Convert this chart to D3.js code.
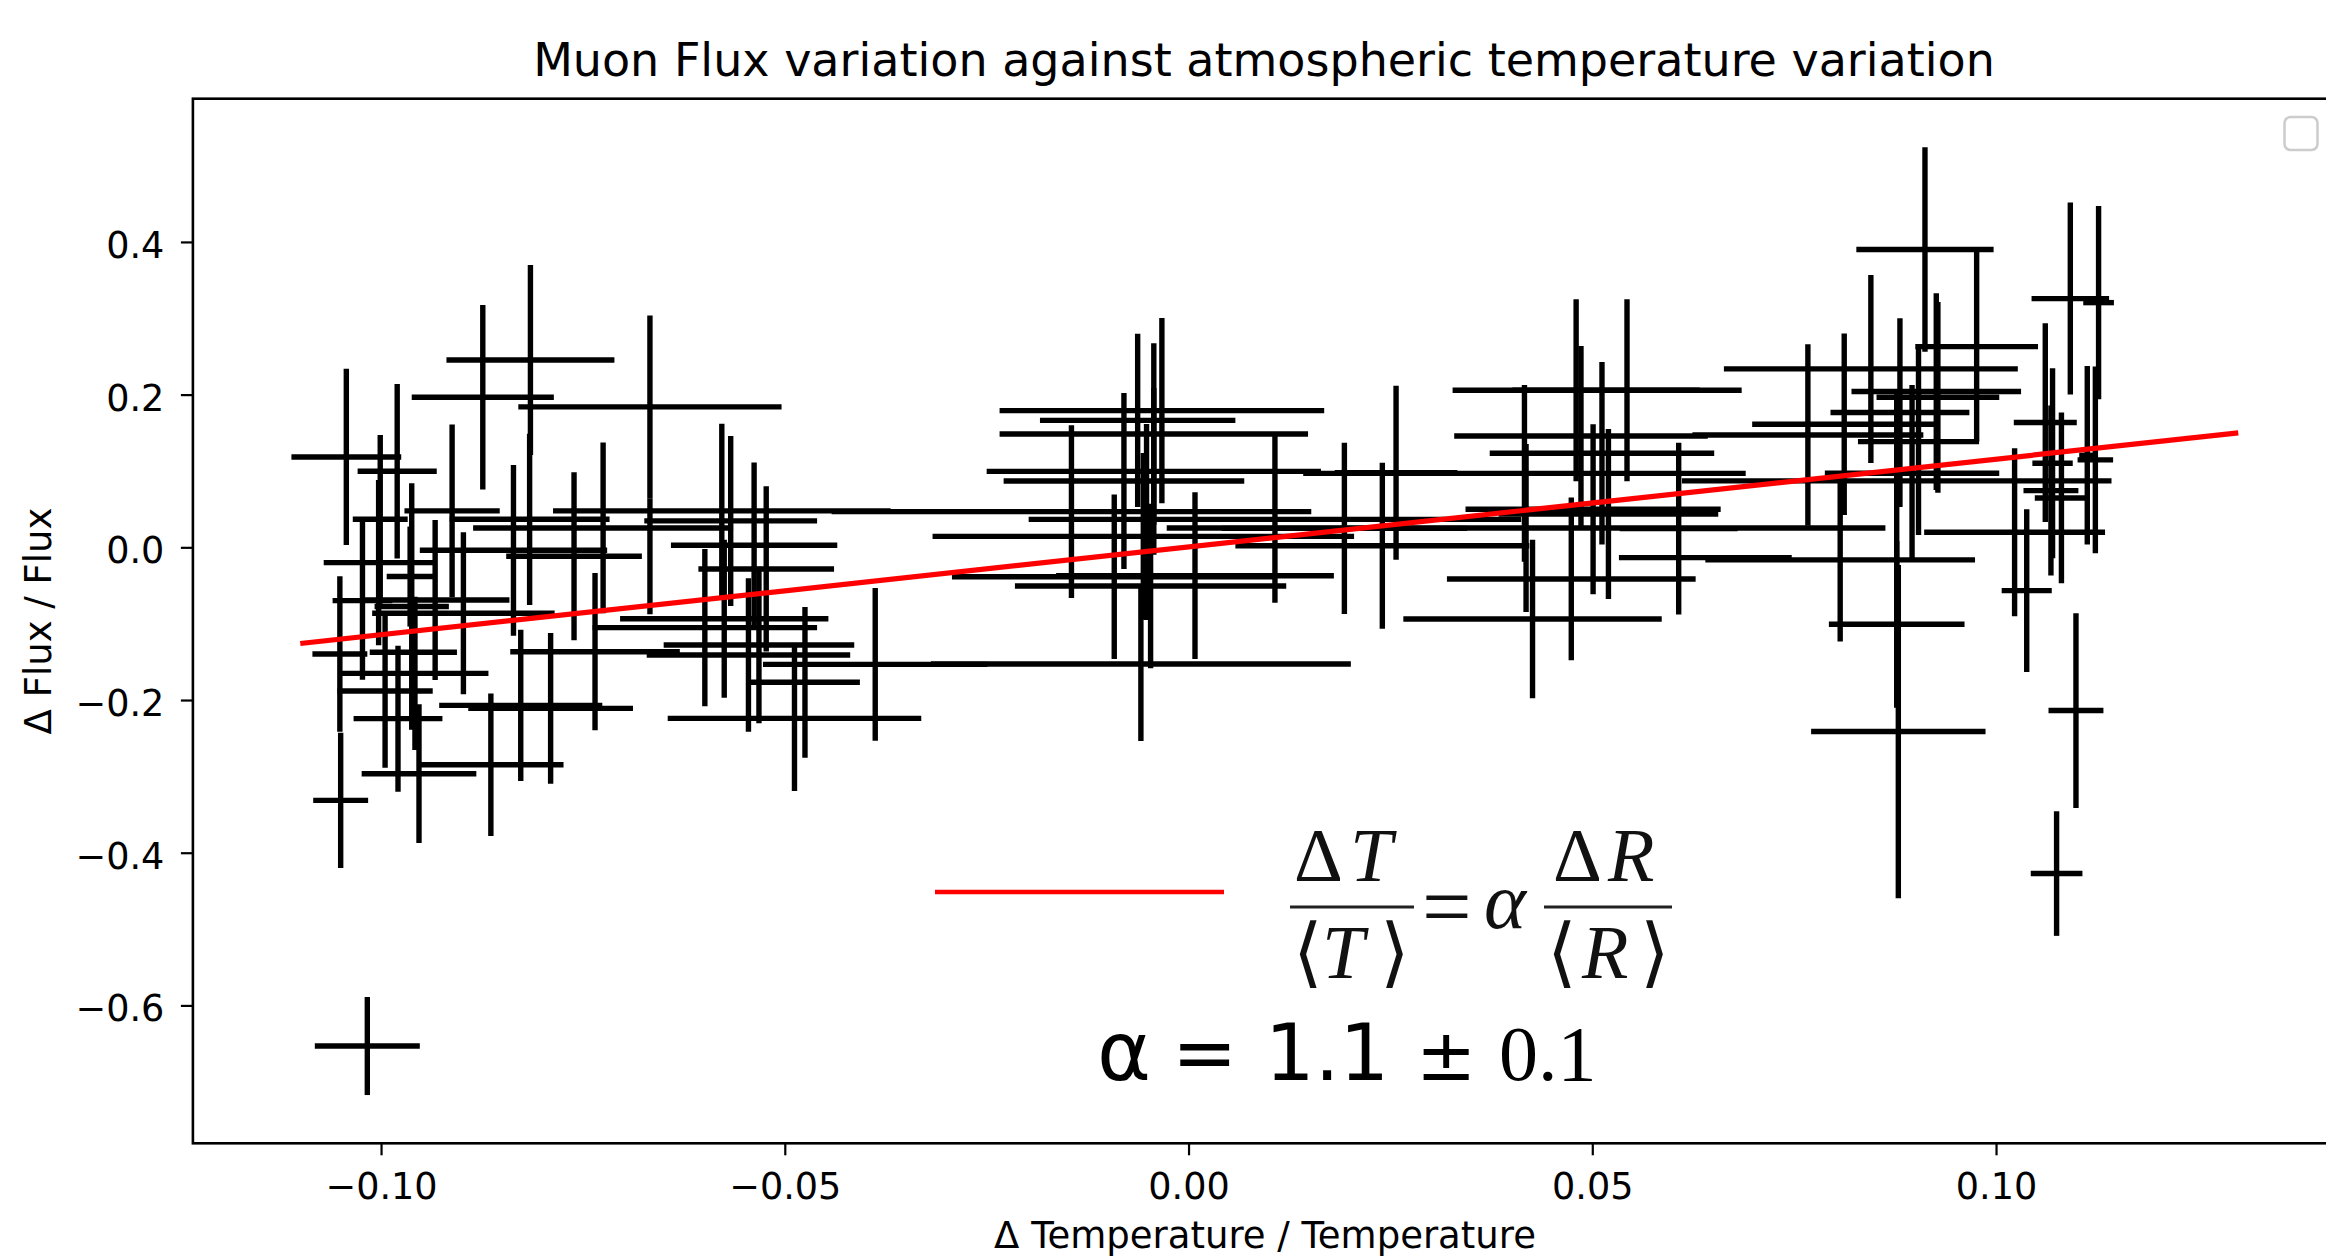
<!DOCTYPE html>
<html>
<head>
<meta charset="utf-8">
<script src="https://cdn.jsdelivr.net/npm/d3@7"></script>
<style>
  body { margin: 0; background: #fff; }
  svg { display: block; }
</style>
</head>
<body>
<div id="chart"></div>
<script>
// relative temperature variation (x) and its error
const tempVar = [
  -0.1043, -0.0980, -0.0815, -0.0874, -0.0667, -0.0667, -0.0912, -0.0578, -0.1001, -0.0816,
  -0.0567, -0.0725, -0.0538, -0.0836, -0.0761, -0.1003, -0.0523, -0.0964, -0.0962, -0.0933,
  -0.0898, -0.1023, -0.0575, -0.0599, -0.0532, -0.0960, -0.0735, -0.1051, -0.0545, -0.0388,
  -0.0958, -0.0475, -0.0995, -0.0827, -0.0790, -0.0979, -0.0488, -0.0864, -0.0953, -0.1050,
  -0.1017, -0.0033, -0.0063, -0.0043, -0.0080, -0.0145,  0.0240,  0.0426,  0.0257,  0.0416,
   0.0107,  0.0193, -0.0092,  0.0008, -0.0047, -0.0059, -0.0056, -0.0043, -0.0052,  0.0418,
   0.0480,  0.0543,  0.0486,  0.0512,  0.0501,  0.0520,  0.0474,  0.0607,  0.0912,  0.1092,
   0.1127,  0.0976,  0.0845,  0.0926,  0.0928,  0.0881,  0.1061,  0.0812,  0.0767,  0.0904,
   0.1123,  0.1070,  0.0896,  0.0877,  0.1068,  0.1081,  0.1023,  0.0807,  0.0640,  0.1038,
   0.0877,  0.1113,  0.0879,  0.1075,  0.1099
];
const tempErr = [
  0.0068, 0.0049, 0.0104, 0.0088, 0.0163, 0.0000, 0.0059, 0.0209, 0.0034, 0.0099,
  0.0107, 0.0161, 0.0103, 0.0116, 0.0084, 0.0068, 0.0084, 0.0029, 0.0046, 0.0092,
  0.0113, 0.0037, 0.0129, 0.0139, 0.0118, 0.0054, 0.0105, 0.0034, 0.0126, 0.0139,
  0.0091, 0.0068, 0.0059, 0.0101, 0.0102, 0.0055, 0.0157, 0.0090, 0.0071, 0.0034,
  0.0065, 0.0201, 0.0121, 0.0191, 0.0149, 0.0297, 0.0182, 0.0160, 0.0076, 0.0274,
  0.0305, 0.0152, 0.0201, 0.0172, 0.0168, 0.0260, 0.0261, 0.0207, 0.0000, 0.0445,
  0.0153, 0.0142, 0.0157, 0.0139, 0.0158, 0.0136, 0.0154, 0.0073, 0.0085, 0.0048,
  0.0019, 0.0076, 0.0182, 0.0105, 0.0076, 0.0086, 0.0039, 0.0114, 0.0143, 0.0075,
  0.0022, 0.0025, 0.0108, 0.0266, 0.0034, 0.0033, 0.0112, 0.0167, 0.0107, 0.0031,
  0.0084, 0.0010, 0.0108, 0.0032, 0.0034
];
// relative muon flux variation (y) and its error
const fluxVar = [
   0.1184,  0.0996,  0.2454,  0.1965,  0.1839, -0.0117,  0.0477,  0.0477,  0.0367,  0.0367,
   0.0346,  0.0254,  0.0027, -0.0039, -0.0117, -0.0200, -0.0283, -0.0383, -0.0776, -0.0689,
  -0.0864, -0.0698, -0.0935, -0.1052, -0.1279, -0.1375, -0.1367, -0.1397, -0.1410, -0.1533,
  -0.1651, -0.1768, -0.1882, -0.2070, -0.2109, -0.2244, -0.2240, -0.2847, -0.2965, -0.3314,
  -0.6532,  0.1790,  0.1663,  0.1484,  0.0868,  0.0467,  0.0021, -0.0939,  0.0977,  0.0969,
   0.0366,  0.0248, -0.0385, -0.0372, -0.0507, -0.1529,  0.0144,  0.0995,  0.0331,  0.0253,
   0.2057,  0.2057,  0.1459,  0.1232,  0.0498,  0.0437, -0.0414,  0.0245,  0.3900,  0.3258,
   0.3205,  0.2629,  0.2337,  0.2040,  0.1965,  0.1765,  0.1634,  0.1612,  0.1472,  0.1385,
   0.1145,  0.1101,  0.0970,  0.0870,  0.0743,  0.0647,  0.0197, -0.0165, -0.0135, -0.0567,
  -0.1008,  0.1206, -0.2413, -0.4273, -0.2138
];
const fluxErr = [
  0.1155, 0.1144, 0.1244, 0.1209, 0.1196, 0.0760, 0.1131, 0.1140, 0.1105, 0.1122,
  0.1113, 0.1118, 0.1083, 0.1118, 0.1100, 0.1083, 0.1083, 0.0655, 0.1615, 0.1048,
  0.1061, 0.1035, 0.1035, 0.1030, 0.1026, 0.0611, 0.1030, 0.1017, 0.1004, 0.1000,
  0.1004, 0.0987, 0.1004, 0.0991, 0.0987, 0.0956, 0.0952, 0.0934, 0.0908, 0.0886,
  0.0642, 0.1214, 0.1135, 0.1188, 0.1153, 0.1131, 0.1087, 0.1039, 0.1140, 0.1157,
  0.1092, 0.1122, 0.1078, 0.1092, 0.1078, 0.1009, 0.1092, 0.1092, 0.1284, 0.1100,
  0.1192, 0.1192, 0.1179, 0.1196, 0.1113, 0.1113, 0.1065, 0.1126, 0.1340, 0.1257,
  0.1266, 0.1244, 0.1231, 0.1288, 0.1249, 0.1236, 0.1301, 0.1188, 0.1188, 0.1222,
  0.1222, 0.1244, 0.1157, 0.1157, 0.1113, 0.1118, 0.1100, 0.1070, 0.0000, 0.1065,
  0.1092, 0.1170, 0.2183, 0.0816, 0.1275
];

// fitted line end points
const fitX = [-0.110, 0.130];
const fitY = [-0.126, 0.150];

const xTicks = [-0.10, -0.05, 0.00, 0.05, 0.10];
const yTicks = [-0.6, -0.4, -0.2, 0.0, 0.2, 0.4];
const xDomain = [-0.1233, 0.1423];
const yDomain = [-0.7806, 0.5876];

const W = 2326, H = 1258;
const margin = { top: 98.7, left: 192.9 };
const iw = 2144.7, ih = 1044.6;   // plot area runs slightly past the right edge

const SANS = "'DejaVu Sans', sans-serif";
const SERIF = "'Liberation Serif', 'DejaVu Serif', serif";

const svg = d3.select("#chart").append("svg")
  .attr("width", W).attr("height", H)
  .attr("viewBox", `0 0 ${W} ${H}`);
svg.append("rect").attr("width", W).attr("height", H).attr("fill", "#fff");

const g = svg.append("g").attr("transform", `translate(${margin.left},${margin.top})`);

const x = d3.scaleLinear().domain(xDomain).range([0, iw]);
const y = d3.scaleLinear().domain(yDomain).range([ih, 0]);

// error bars
const pts = tempVar.map((t, i) => ({ t, f: fluxVar[i], te: tempErr[i], fe: fluxErr[i] }));
const bars = g.append("g").attr("stroke", "#000").attr("stroke-width", 5.4);
bars.selectAll("line.h").data(pts.filter(d => d.te > 0)).join("line")
  .attr("x1", d => x(d.t - d.te)).attr("x2", d => x(d.t + d.te))
  .attr("y1", d => y(d.f)).attr("y2", d => y(d.f));
bars.selectAll("line.v").data(pts.filter(d => d.fe > 0)).join("line")
  .attr("x1", d => x(d.t)).attr("x2", d => x(d.t))
  .attr("y1", d => y(d.f - d.fe)).attr("y2", d => y(d.f + d.fe));

// fit line
g.append("path")
  .datum(fitX.map((v, i) => [v, fitY[i]]))
  .attr("d", d3.line().x(d => x(d[0])).y(d => y(d[1])))
  .attr("fill", "none").attr("stroke", "#ff0000").attr("stroke-width", 5.2);

// frame
g.append("rect").attr("width", iw).attr("height", ih)
  .attr("fill", "none").attr("stroke", "#000").attr("stroke-width", 2.6);

// axes
const xa = g.append("g").attr("transform", `translate(0,${ih})`)
  .call(d3.axisBottom(x).tickValues(xTicks).tickFormat(d3.format(".2f")).tickSize(12));
const ya = g.append("g")
  .call(d3.axisLeft(y).tickValues(yTicks).tickFormat(d3.format(".1f")).tickSize(12));
[xa, ya].forEach(a => {
  a.select(".domain").remove();
  a.selectAll("line").attr("stroke", "#000").attr("stroke-width", 2.2);
  a.selectAll("text").attr("fill", "#000")
    .style("font-family", SANS).style("font-size", "36.6px");
});
xa.selectAll("text").attr("y", 56).attr("dy", null);
ya.selectAll("text").attr("x", -28.6).attr("dy", "15.5");

// labels
svg.append("text").attr("x", 1264).attr("y", 76).attr("text-anchor", "middle")
  .style("font-family", SANS).style("font-size", "46px")
  .text("Muon Flux variation against atmospheric temperature variation");
svg.append("text").attr("x", 1265).attr("y", 1248).attr("text-anchor", "middle")
  .style("font-family", SANS).style("font-size", "37px")
  .text("Δ Temperature / Temperature");
svg.append("text").attr("transform", `translate(51,${margin.top + ih / 2}) rotate(-90)`)
  .attr("text-anchor", "middle")
  .style("font-family", SANS).style("font-size", "37px")
  .text("Δ Flux / Flux");

// empty legend frame (top right)
svg.append("rect").attr("x", 2284.5).attr("y", 117).attr("width", 33).attr("height", 33)
  .attr("rx", 6).attr("fill", "#fff").attr("stroke", "#cccccc").attr("stroke-width", 2.5);

// legend entry: red line + equation
svg.append("line").attr("x1", 935).attr("x2", 1224).attr("y1", 892).attr("y2", 892)
  .attr("stroke", "#ff0000").attr("stroke-width", 4.4);

const eq = svg.append("g").attr("fill", "#111").style("font-family", SERIF);
const put = (tx, ty, s, size, italic) => eq.append("text").attr("x", tx).attr("y", ty)
  .style("font-size", size + "px").style("font-style", italic ? "italic" : "normal").text(s);
put(1294, 881, "Δ", 76, false);
put(1350, 881, "T", 76, true);
put(1553, 881, "Δ", 76, false);
put(1608, 881, "R", 76, true);
eq.append("line").attr("x1", 1290).attr("x2", 1414).attr("y1", 907).attr("y2", 907)
  .attr("stroke", "#222").attr("stroke-width", 3.2);
eq.append("line").attr("x1", 1544).attr("x2", 1672).attr("y1", 907).attr("y2", 907)
  .attr("stroke", "#222").attr("stroke-width", 3.2);
put(1293, 978, "⟨", 76, false);
put(1322, 978, "T", 76, true);
put(1380, 978, "⟩", 76, false);
put(1547, 978, "⟨", 76, false);
put(1582, 978, "R", 76, true);
put(1640, 978, "⟩", 76, false);
put(1422, 936, "=", 88, false);
put(1484, 928, "α", 80, true);

const res = svg.append("g").attr("fill", "#000");
res.append("text").attr("x", 1097).attr("y", 1080).style("font-family", SANS).style("font-size", "82px").text("α");
res.append("text").attr("x", 1172).attr("y", 1080).style("font-family", SANS).style("font-size", "78px").text("=");
res.append("text").attr("x", 1265).attr("y", 1080).style("font-family", SANS).style("font-size", "78px").text("1.1");
res.append("text").attr("x", 1416).attr("y", 1080).style("font-family", SANS).style("font-size", "72px").text("±");
res.append("text").attr("x", 1499).attr("y", 1080).style("font-family", SERIF).style("font-size", "78px").text("0.1");
</script>
</body>
</html>
